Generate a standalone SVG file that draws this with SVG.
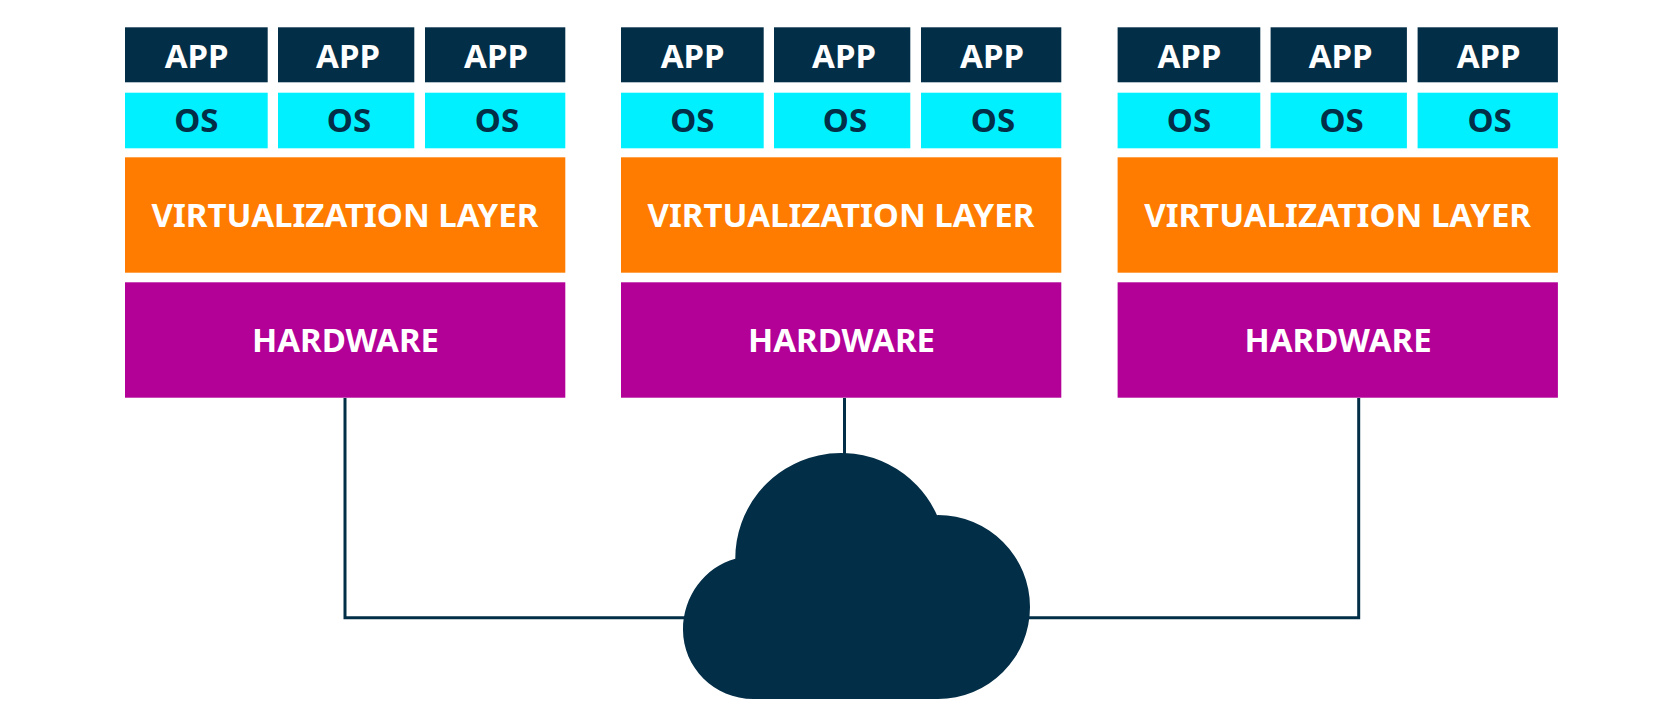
<svg xmlns="http://www.w3.org/2000/svg" width="1680" height="722" viewBox="0 0 1680 722">
<style>
.app{fill:#032e47}.os{fill:#00f0ff}.virt{fill:#ff7c00}.hw{fill:#b30097}
text{font-family:"Noto Sans","Open Sans",sans-serif;font-weight:700;font-size:33px;text-anchor:middle;fill:#fff}
.o{fill:#032e47}
.c{fill:none;stroke:#032e47;stroke-width:3}
</style>
<rect width="1680" height="722" fill="#fff"/>
<g id="connectors">
<path class="c" d="M345 398V617.700H690"/>
<path class="c" d="M844.500 398V460"/>
<path class="c" d="M1358.700 398V617.700H1025"/>
</g>
<g id="cloud"><path fill="#032e47" d="M735.300 558.700A105.500 105.500 0 0 1 937 515.200L938 515A92 92 0 0 1 938 699H753.500C714 699 683 667 683 630C683 596 705 567 735.300 558.700Z"/></g>
<g id="stack1">
<g id="s1-app1"><rect class="app" x="125" y="27.300" width="142.700" height="55"/><text x="196.700" y="67.500">APP</text></g>
<g id="s1-app2"><rect class="app" x="278" y="27.300" width="136.300" height="55"/><text x="348" y="67.500">APP</text></g>
<g id="s1-app3"><rect class="app" x="425" y="27.300" width="140.300" height="55"/><text x="496" y="67.500">APP</text></g>
<g id="s1-os1"><rect class="os" x="125" y="92.700" width="142.700" height="55.600"/><text class="o" x="196.400" y="131.500">OS</text></g>
<g id="s1-os2"><rect class="os" x="278" y="92.700" width="136.300" height="55.600"/><text class="o" x="349" y="131.500">OS</text></g>
<g id="s1-os3"><rect class="os" x="425" y="92.700" width="140.300" height="55.600"/><text class="o" x="497" y="131.500">OS</text></g>
<g id="s1-virt"><rect class="virt" x="125" y="157.300" width="440.300" height="115.400"/><text x="345" y="226.500">VIRTUALIZATION LAYER</text></g>
<g id="s1-hw"><rect class="hw" x="125" y="282.300" width="440.300" height="115.400"/><text x="345.500" y="351.500">HARDWARE</text></g>
</g>
<g id="stack2" transform="translate(496 0)">
<g id="s2-app1"><rect class="app" x="125" y="27.300" width="142.700" height="55"/><text x="196.700" y="67.500">APP</text></g>
<g id="s2-app2"><rect class="app" x="278" y="27.300" width="136.300" height="55"/><text x="348" y="67.500">APP</text></g>
<g id="s2-app3"><rect class="app" x="425" y="27.300" width="140.300" height="55"/><text x="496" y="67.500">APP</text></g>
<g id="s2-os1"><rect class="os" x="125" y="92.700" width="142.700" height="55.600"/><text class="o" x="196.400" y="131.500">OS</text></g>
<g id="s2-os2"><rect class="os" x="278" y="92.700" width="136.300" height="55.600"/><text class="o" x="349" y="131.500">OS</text></g>
<g id="s2-os3"><rect class="os" x="425" y="92.700" width="140.300" height="55.600"/><text class="o" x="497" y="131.500">OS</text></g>
<g id="s2-virt"><rect class="virt" x="125" y="157.300" width="440.300" height="115.400"/><text x="345" y="226.500">VIRTUALIZATION LAYER</text></g>
<g id="s2-hw"><rect class="hw" x="125" y="282.300" width="440.300" height="115.400"/><text x="345.500" y="351.500">HARDWARE</text></g>
</g>
<g id="stack3" transform="translate(992.600 0)">
<g id="s3-app1"><rect class="app" x="125" y="27.300" width="142.700" height="55"/><text x="196.700" y="67.500">APP</text></g>
<g id="s3-app2"><rect class="app" x="278" y="27.300" width="136.300" height="55"/><text x="348" y="67.500">APP</text></g>
<g id="s3-app3"><rect class="app" x="425" y="27.300" width="140.300" height="55"/><text x="496" y="67.500">APP</text></g>
<g id="s3-os1"><rect class="os" x="125" y="92.700" width="142.700" height="55.600"/><text class="o" x="196.400" y="131.500">OS</text></g>
<g id="s3-os2"><rect class="os" x="278" y="92.700" width="136.300" height="55.600"/><text class="o" x="349" y="131.500">OS</text></g>
<g id="s3-os3"><rect class="os" x="425" y="92.700" width="140.300" height="55.600"/><text class="o" x="497" y="131.500">OS</text></g>
<g id="s3-virt"><rect class="virt" x="125" y="157.300" width="440.300" height="115.400"/><text x="345" y="226.500">VIRTUALIZATION LAYER</text></g>
<g id="s3-hw"><rect class="hw" x="125" y="282.300" width="440.300" height="115.400"/><text x="345.500" y="351.500">HARDWARE</text></g>
</g>
</svg>
